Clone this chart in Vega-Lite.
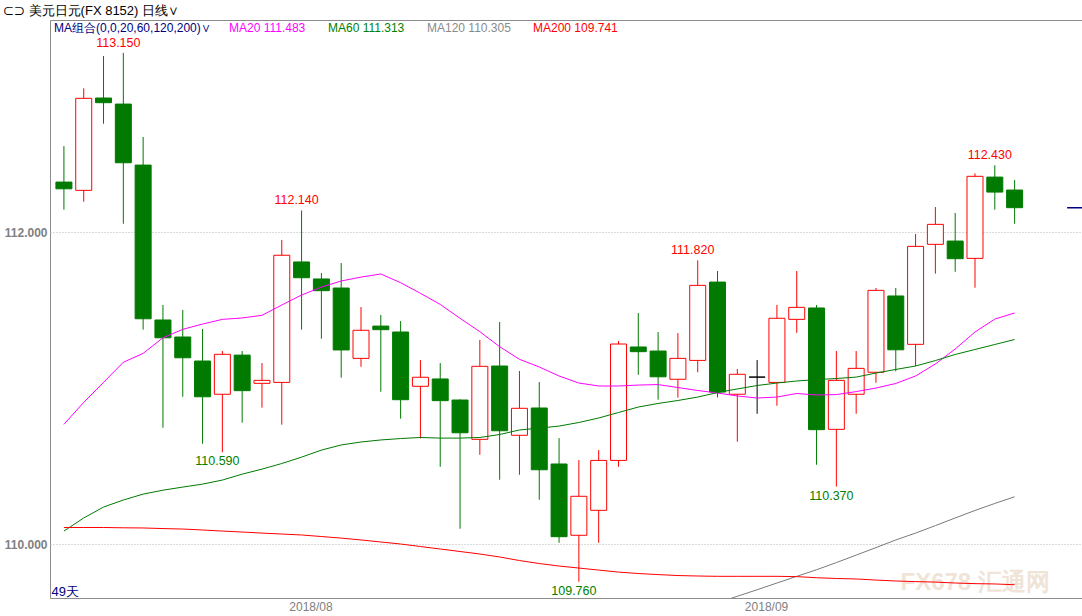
{
  "$schema": "https://vega.github.io/schema/vega-lite/v6.json",
  "width": 1032,
  "height": 578,
  "autosize": {"type": "none"},
  "padding": {"left": 50, "top": 20, "right": 0, "bottom": 18},
  "background": "#ffffff",
  "title": {"text": "⊂⊃ 美元日元(FX 8152)  日线∨", "anchor": "start", "frame": "group", "dx": -47, "dy": 15, "offset": 4, "fontSize": 13, "font": "Liberation Sans", "fontWeight": "normal", "color": "#000000", "baseline": "bottom"},
  "config": {
    "view": {"stroke": "#8c8c8c", "strokeWidth": 1},
    "legend": {"padding": 0, "offset": 0, "symbolSize": 0, "symbolOpacity": 0, "symbolStrokeWidth": 0, "labelOffset": 0, "labelFont": "Liberation Sans", "labelFontSize": 12, "titleFont": "Liberation Sans"}
  },
  "data": {"values": [
    {"i":0,"d":"2018-07-16","o":112.322,"h":112.553,"l":112.145,"c":112.279,"ma20":110.769,"ma60":110.085,"ma120":null,"ma200":110.108},
    {"i":1,"d":"2018-07-17","o":112.269,"h":112.923,"l":112.196,"c":112.859,"ma20":110.910,"ma60":110.169,"ma120":null,"ma200":110.108},
    {"i":2,"d":"2018-07-18","o":112.861,"h":113.130,"l":112.696,"c":112.831,"ma20":111.038,"ma60":110.239,"ma120":null,"ma200":110.108},
    {"i":3,"d":"2018-07-19","o":112.822,"h":113.150,"l":112.055,"c":112.446,"ma20":111.167,"ma60":110.284,"ma120":null,"ma200":110.106},
    {"i":4,"d":"2018-07-20","o":112.431,"h":112.611,"l":111.376,"c":111.446,"ma20":111.224,"ma60":110.322,"ma120":null,"ma200":110.105},
    {"i":5,"d":"2018-07-23","o":111.438,"h":111.534,"l":110.747,"c":111.324,"ma20":111.324,"ma60":110.347,"ma120":null,"ma200":110.101},
    {"i":6,"d":"2018-07-24","o":111.329,"h":111.502,"l":110.946,"c":111.196,"ma20":111.378,"ma60":110.367,"ma120":null,"ma200":110.098},
    {"i":7,"d":"2018-07-25","o":111.175,"h":111.380,"l":110.645,"c":110.946,"ma20":111.412,"ma60":110.386,"ma120":null,"ma200":110.092},
    {"i":8,"d":"2018-07-26","o":110.962,"h":111.239,"l":110.590,"c":111.218,"ma20":111.442,"ma60":110.412,"ma120":null,"ma200":110.085},
    {"i":9,"d":"2018-07-27","o":111.213,"h":111.239,"l":110.780,"c":110.985,"ma20":111.451,"ma60":110.450,"ma120":null,"ma200":110.079},
    {"i":10,"d":"2018-07-30","o":111.032,"h":111.162,"l":110.876,"c":111.051,"ma20":111.468,"ma60":110.482,"ma120":null,"ma200":110.072},
    {"i":11,"d":"2018-07-31","o":111.038,"h":111.951,"l":110.767,"c":111.853,"ma20":111.534,"ma60":110.518,"ma120":null,"ma200":110.066},
    {"i":12,"d":"2018-08-01","o":111.810,"h":112.140,"l":111.376,"c":111.709,"ma20":111.598,"ma60":110.559,"ma120":null,"ma200":110.060},
    {"i":13,"d":"2018-08-02","o":111.701,"h":111.739,"l":111.318,"c":111.626,"ma20":111.649,"ma60":110.604,"ma120":null,"ma200":110.050},
    {"i":14,"d":"2018-08-03","o":111.643,"h":111.803,"l":111.068,"c":111.246,"ma20":111.688,"ma60":110.637,"ma120":null,"ma200":110.040},
    {"i":15,"d":"2018-08-06","o":111.192,"h":111.521,"l":111.138,"c":111.372,"ma20":111.713,"ma60":110.656,"ma120":null,"ma200":110.028},
    {"i":16,"d":"2018-08-07","o":111.399,"h":111.470,"l":110.978,"c":111.376,"ma20":111.733,"ma60":110.669,"ma120":null,"ma200":110.015},
    {"i":17,"d":"2018-08-08","o":111.361,"h":111.431,"l":110.805,"c":110.927,"ma20":111.677,"ma60":110.678,"ma120":null,"ma200":110.002},
    {"i":18,"d":"2018-08-09","o":111.013,"h":111.181,"l":110.679,"c":111.071,"ma20":111.609,"ma60":110.685,"ma120":null,"ma200":109.986},
    {"i":19,"d":"2018-08-10","o":111.060,"h":111.162,"l":110.497,"c":110.921,"ma20":111.538,"ma60":110.681,"ma120":null,"ma200":109.970},
    {"i":20,"d":"2018-08-13","o":110.925,"h":110.930,"l":110.100,"c":110.715,"ma20":111.449,"ma60":110.681,"ma120":null,"ma200":109.954},
    {"i":21,"d":"2018-08-14","o":110.673,"h":111.310,"l":110.574,"c":111.141,"ma20":111.363,"ma60":110.685,"ma120":null,"ma200":109.938},
    {"i":22,"d":"2018-08-15","o":111.143,"h":111.425,"l":110.414,"c":110.728,"ma20":111.267,"ma60":110.704,"ma120":null,"ma200":109.919},
    {"i":23,"d":"2018-08-16","o":110.699,"h":111.111,"l":110.446,"c":110.872,"ma20":111.186,"ma60":110.733,"ma120":null,"ma200":109.896},
    {"i":24,"d":"2018-08-17","o":110.874,"h":111.040,"l":110.286,"c":110.478,"ma20":111.137,"ma60":110.745,"ma120":null,"ma200":109.877},
    {"i":25,"d":"2018-08-20","o":110.515,"h":110.681,"l":110.010,"c":110.049,"ma20":111.079,"ma60":110.758,"ma120":null,"ma200":109.861},
    {"i":26,"d":"2018-08-21","o":110.058,"h":110.540,"l":109.760,"c":110.308,"ma20":111.034,"ma60":110.781,"ma120":null,"ma200":109.848},
    {"i":27,"d":"2018-08-22","o":110.218,"h":110.604,"l":110.010,"c":110.538,"ma20":111.015,"ma60":110.810,"ma120":null,"ma200":109.835},
    {"i":28,"d":"2018-08-23","o":110.538,"h":111.303,"l":110.497,"c":111.284,"ma20":111.015,"ma60":110.845,"ma120":null,"ma200":109.822},
    {"i":29,"d":"2018-08-24","o":111.265,"h":111.483,"l":111.087,"c":111.235,"ma20":111.021,"ma60":110.880,"ma120":null,"ma200":109.813},
    {"i":30,"d":"2018-08-27","o":111.239,"h":111.361,"l":110.927,"c":111.074,"ma20":111.024,"ma60":110.903,"ma120":null,"ma200":109.806},
    {"i":31,"d":"2018-08-28","o":111.058,"h":111.354,"l":110.940,"c":111.192,"ma20":111.005,"ma60":110.922,"ma120":null,"ma200":109.800},
    {"i":32,"d":"2018-08-29","o":111.179,"h":111.820,"l":111.103,"c":111.660,"ma20":110.986,"ma60":110.944,"ma120":109.601,"ma200":109.797},
    {"i":33,"d":"2018-08-30","o":111.681,"h":111.752,"l":110.942,"c":110.976,"ma20":110.970,"ma60":110.973,"ma120":109.624,"ma200":109.795},
    {"i":34,"d":"2018-08-31","o":110.962,"h":111.124,"l":110.658,"c":111.090,"ma20":110.951,"ma60":110.996,"ma120":109.667,"ma200":109.795},
    {"i":35,"d":"2018-09-03","o":111.072,"h":111.181,"l":110.837,"c":111.072,"ma20":110.938,"ma60":111.018,"ma120":109.709,"ma200":109.795},
    {"i":36,"d":"2018-09-04","o":111.038,"h":111.534,"l":110.888,"c":111.449,"ma20":110.944,"ma60":111.034,"ma120":109.752,"ma200":109.795},
    {"i":37,"d":"2018-09-05","o":111.442,"h":111.752,"l":111.356,"c":111.519,"ma20":110.967,"ma60":111.047,"ma120":109.795,"ma200":109.793},
    {"i":38,"d":"2018-09-06","o":111.515,"h":111.534,"l":110.510,"c":110.735,"ma20":110.957,"ma60":111.056,"ma120":109.837,"ma200":109.786},
    {"i":39,"d":"2018-09-07","o":110.737,"h":111.239,"l":110.370,"c":111.051,"ma20":110.960,"ma60":111.063,"ma120":109.883,"ma200":109.781},
    {"i":40,"d":"2018-09-10","o":110.962,"h":111.239,"l":110.837,"c":111.128,"ma20":110.979,"ma60":111.072,"ma120":109.931,"ma200":109.778},
    {"i":41,"d":"2018-09-11","o":111.103,"h":111.643,"l":111.036,"c":111.628,"ma20":111.002,"ma60":111.098,"ma120":109.979,"ma200":109.771},
    {"i":42,"d":"2018-09-12","o":111.592,"h":111.643,"l":111.109,"c":111.247,"ma20":111.031,"ma60":111.121,"ma120":110.028,"ma200":109.765},
    {"i":43,"d":"2018-09-13","o":111.282,"h":111.989,"l":111.143,"c":111.910,"ma20":111.079,"ma60":111.143,"ma120":110.072,"ma200":109.761},
    {"i":44,"d":"2018-09-14","o":111.923,"h":112.162,"l":111.735,"c":112.051,"ma20":111.156,"ma60":111.178,"ma120":110.120,"ma200":109.758},
    {"i":45,"d":"2018-09-17","o":111.944,"h":112.124,"l":111.747,"c":111.831,"ma20":111.252,"ma60":111.217,"ma120":110.169,"ma200":109.752},
    {"i":46,"d":"2018-09-18","o":111.833,"h":112.378,"l":111.645,"c":112.359,"ma20":111.361,"ma60":111.249,"ma120":110.217,"ma200":109.748},
    {"i":47,"d":"2018-09-19","o":112.354,"h":112.430,"l":112.145,"c":112.258,"ma20":111.444,"ma60":111.281,"ma120":110.262,"ma200":109.746},
    {"i":48,"d":"2018-09-20","o":112.271,"h":112.335,"l":112.055,"c":112.158,"ma20":111.483,"ma60":111.313,"ma120":110.305,"ma200":109.741}
  ]},
  "encoding": {
    "x": {"field": "i", "type": "quantitative", "scale": {"domain": [-0.45, 51.15], "nice": false, "zero": false},
      "axis": {"values": [12.45, 35.45], "labelExpr": "datum.value < 20 ? '2018/08' : '2018/09'", "domain": false, "ticks": false, "grid": false, "labelPadding": 3, "labelColor": "#808080", "labelFont": "Liberation Sans", "labelFontSize": 12, "labelBaseline": "top",
        "title": "FX678 汇通网", "titleX": 850, "titleY": -9, "titleAlign": "left", "titleBaseline": "alphabetic", "titleAnchor": null, "titleFontSize": 24, "titleFontWeight": "bold", "titleFont": "Liberation Sans", "titleColor": "#f0e4d8"}}
  },
  "layer": [
    {
      "mark": {"type": "rule", "strokeWidth": 1},
      "encoding": {
        "y": {"field": "l", "type": "quantitative", "title": "49天", "scale": {"domain": [109.656, 113.361], "nice": false, "zero": false},
          "axis": {"values": [110, 112], "format": ".3f", "grid": true, "gridDash": [1, 2], "gridColor": "#b4b4b4", "domain": false, "ticks": false, "labelPadding": 3, "labelColor": "#808080", "labelFont": "Liberation Sans", "labelFontSize": 12, "labelFontWeight": "bold",
            "titleAngle": 0, "titleX": 1, "titleY": 575, "titleAlign": "left", "titleBaseline": "alphabetic", "titleAnchor": null, "titleColor": "#000080", "titleFont": "Liberation Sans", "titleFontWeight": "normal", "titleFontSize": 13}},
        "y2": {"field": "h"},
        "color": {"condition": [{"test": "datum.c > datum.o", "value": "#ff0000"}, {"test": "datum.c == datum.o", "value": "#000000"}], "value": "#007a00"}
      }
    },
    {
      "mark": {"type": "bar", "orient": "vertical", "width": 16, "strokeWidth": 1},
      "encoding": {
        "y": {"field": "o", "type": "quantitative", "title": "49天", "scale": {"domain": [109.656, 113.361], "nice": false, "zero": false}},
        "y2": {"field": "c"},
        "fill": {"condition": [{"test": "datum.c > datum.o", "value": "#ffffff"}, {"test": "datum.c == datum.o", "value": "#000000"}], "value": "#007a00"},
        "stroke": {"condition": [{"test": "datum.c > datum.o", "value": "#ff0000"}, {"test": "datum.c == datum.o", "value": "#000000"}], "value": "#007a00"}
      }
    },
    {
      "mark": {"type": "line", "strokeWidth": 1, "clip": true},
      "encoding": {
        "y": {"field": "ma20", "type": "quantitative", "title": "49天", "scale": {"domain": [109.656, 113.361], "nice": false, "zero": false}},
        "stroke": {"datum": "MA20 111.483", "type": "nominal", "scale": {"range": ["#ff00ff"]},
          "legend": {"orient": "none", "legendX": 4, "legendY": 2, "title": "MA组合(0,0,20,60,120,200)∨", "titleOrient": "left", "titleColor": "#000080", "titleFontWeight": "normal", "titleFontSize": 12, "titlePadding": 7, "labelColor": "#ff00ff"}}
      }
    },
    {
      "mark": {"type": "line", "strokeWidth": 1, "clip": true},
      "encoding": {
        "y": {"field": "ma60", "type": "quantitative", "title": "49天", "scale": {"domain": [109.656, 113.361], "nice": false, "zero": false}},
        "stroke": {"datum": "MA60 111.313", "type": "nominal", "scale": {"range": ["#007a00"]},
          "legend": {"orient": "none", "legendX": 266, "legendY": 2, "title": null, "labelColor": "#008000"}}
      }
    },
    {
      "transform": [{"filter": "isValid(datum.ma120)"}],
      "mark": {"type": "line", "strokeWidth": 1, "clip": true},
      "encoding": {
        "y": {"field": "ma120", "type": "quantitative", "title": "49天", "scale": {"domain": [109.656, 113.361], "nice": false, "zero": false}},
        "stroke": {"datum": "MA120 110.305", "type": "nominal", "scale": {"range": ["#7a7a7a"]},
          "legend": {"orient": "none", "legendX": 365, "legendY": 2, "title": null, "labelColor": "#8a8a8a"}}
      }
    },
    {
      "mark": {"type": "line", "strokeWidth": 1, "clip": true},
      "encoding": {
        "y": {"field": "ma200", "type": "quantitative", "title": "49天", "scale": {"domain": [109.656, 113.361], "nice": false, "zero": false}},
        "stroke": {"datum": "MA200 109.741", "type": "nominal", "scale": {"range": ["#ff0000"]},
          "legend": {"orient": "none", "legendX": 471, "legendY": 2, "title": null, "labelColor": "#ff0000"}}
      }
    },
    {
      "transform": [{"filter": "datum.i == 3 || datum.i == 12 || datum.i == 32 || datum.i == 47"}],
      "mark": {"type": "text", "dx": -5, "dy": -3, "baseline": "bottom", "align": "center", "font": "Liberation Sans", "fontSize": 12.5, "color": "#ff0000"},
      "encoding": {
        "y": {"field": "h", "type": "quantitative", "title": "49天", "scale": {"domain": [109.656, 113.361], "nice": false, "zero": false}},
        "text": {"field": "h", "format": ".3f"}
      }
    },
    {
      "transform": [{"filter": "datum.i == 8 || datum.i == 26 || datum.i == 39"}],
      "mark": {"type": "text", "dx": -5, "dy": 3, "baseline": "top", "align": "center", "font": "Liberation Sans", "fontSize": 12.5, "color": "#008000"},
      "encoding": {
        "y": {"field": "l", "type": "quantitative", "title": "49天", "scale": {"domain": [109.656, 113.361], "nice": false, "zero": false}},
        "text": {"field": "l", "format": ".3f"}
      }
    },
    {
      "transform": [{"filter": "datum.i == 48"}],
      "mark": {"type": "tick", "orient": "horizontal", "size": 15, "thickness": 1.5, "color": "#000080", "opacity": 1},
      "encoding": {
        "x": {"datum": 51.03, "type": "quantitative"},
        "y": {"field": "c", "type": "quantitative", "title": "49天", "scale": {"domain": [109.656, 113.361], "nice": false, "zero": false}}
      }
    }
  ],
  "resolve": {"scale": {"stroke": "independent"}}
}
